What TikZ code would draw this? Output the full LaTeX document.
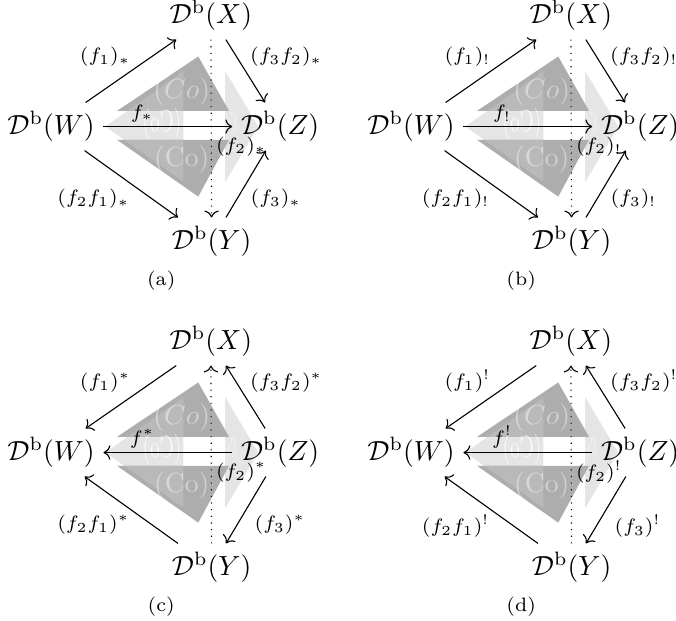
\documentclass[tikz,border=0pt]{standalone}
\usepackage{amsmath, amssymb}
\usepackage{tikz}
\usetikzlibrary{arrows.meta}
\definecolor{codark}{HTML}{ADADAD}
\definecolor{comid}{HTML}{B9B9B9}
\definecolor{colight}{HTML}{E5E5E5}
\tikzset{
    obj/.style={inner sep=3pt},
    lbl/.style={font=\scriptsize, inner sep=1.5pt},
    arr/.style={-{To}, thin},
    darr/.style={arr, dotted},
    subcap/.style={font=\scriptsize},
    cotxt/.style={text=white, text opacity=0.45, inner sep=0pt},
    cobg/.pic={
        \fill[colight] (0.69,0) -- (1.68,0.70) -- (1.68,-0.70) -- cycle;
        \fill[colight] (2.21,0.71) -- (2.63,0) -- (2.21,-0.71) -- cycle;
        \fill[codark] (0.84,0.2) -- (1.87,0.89) -- (2.26,0.2) -- cycle;
        \fill[codark] (0.84,-0.17) -- (1.87,-0.89) -- (2.26,-0.17) -- cycle;
        % where the left face lies over the dark faces
        \begin{scope}
            \clip (0.69,0) -- (1.68,0.70) -- (1.68,-0.70) -- cycle;
            \fill[comid] (0.84,0.2) -- (1.87,0.89) -- (2.26,0.2) -- cycle;
            \fill[comid] (0.84,-0.17) -- (1.87,-0.89) -- (2.26,-0.17) -- cycle;
        \end{scope}
        \node[cotxt] (-top) at (1.66,0.445) {$(Co)$};
        \node[cotxt] (-bot) at (1.66,-0.42) {(Co)};
        \node[cotxt, text opacity=0.8] (-left) at (1.41,0.03) {\scalebox{-0.7}[1.1]{(Co)}};
        \node[cotxt, text opacity=0.8] (-right) at (2.29,0.03) {\scalebox{-0.22}[1]{(Co)}};
    }
}

\begin{document}
\begin{tikzpicture}
    \useasboundingbox (-0.648,1.6075) rectangle (7.9375,-6.279);

    % (a) push-forward
    \begin{scope}[name prefix=a]
        \pic (bg) {cobg};
        \node[obj] (W) at (0,0) {$\mathcal{D}^{\mathrm{b}}(W)$};
        \node[obj] (X) at (2.03,1.41) {$\mathcal{D}^{\mathrm{b}}(X)$};
        \node[obj] (Z) at (2.91,0) {$\mathcal{D}^{\mathrm{b}}(Z)$};
        \node[obj] (Y) at (2.04,-1.46) {$\mathcal{D}^{\mathrm{b}}(Y)$};
        \draw[arr] (W) -- node[lbl, above left, xshift=1.5pt] (l1) {$(f_1)_*$} (X);
        \draw[arr] (X) -- node[lbl, above right] (l32) {$(f_3f_2)_*$} (Z);
        \draw[arr] (W) -- node[lbl, pos=0.3, above] (l0) {$f_*$} (Z);
        \draw[arr] (W) -- node[lbl, below left, xshift=1pt] (l21) {$(f_2f_1)_*$} (Y);
        \draw[arr] (Y) -- node[lbl, below right] (l3) {$(f_3)_*$} (Z);
        \draw[darr] (X) -- node[lbl, pos=0.6, right] (l2) {$(f_2)_*$} (Y);
        \node[subcap] (cap) at (1.40,-1.96) {(a)};
    \end{scope}

    % (b) push-forward with proper support
    \begin{scope}[shift={(4.572,0)}, name prefix=b]
        \pic (bg) {cobg};
        \node[obj] (W) at (0,0) {$\mathcal{D}^{\mathrm{b}}(W)$};
        \node[obj] (X) at (2.03,1.41) {$\mathcal{D}^{\mathrm{b}}(X)$};
        \node[obj] (Z) at (2.91,0) {$\mathcal{D}^{\mathrm{b}}(Z)$};
        \node[obj] (Y) at (2.04,-1.46) {$\mathcal{D}^{\mathrm{b}}(Y)$};
        \draw[arr] (W) -- node[lbl, above left, xshift=1.5pt] (l1) {$(f_1)_!$} (X);
        \draw[arr] (X) -- node[lbl, above right] (l32) {$(f_3f_2)_!$} (Z);
        \draw[arr] (W) -- node[lbl, pos=0.3, above] (l0) {$f_!$} (Z);
        \draw[arr] (W) -- node[lbl, below left, xshift=1pt] (l21) {$(f_2f_1)_!$} (Y);
        \draw[arr] (Y) -- node[lbl, below right] (l3) {$(f_3)_!$} (Z);
        \draw[darr] (X) -- node[lbl, pos=0.6, right] (l2) {$(f_2)_!$} (Y);
        \node[subcap] (cap) at (1.40,-1.96) {(b)};
    \end{scope}

    % (c) pull-back
    \begin{scope}[shift={(0,-4.14)}, name prefix=c]
        \pic (bg) {cobg};
        \node[obj] (W) at (0,0) {$\mathcal{D}^{\mathrm{b}}(W)$};
        \node[obj] (X) at (2.03,1.41) {$\mathcal{D}^{\mathrm{b}}(X)$};
        \node[obj] (Z) at (2.91,0) {$\mathcal{D}^{\mathrm{b}}(Z)$};
        \node[obj] (Y) at (2.04,-1.46) {$\mathcal{D}^{\mathrm{b}}(Y)$};
        \draw[arr] (X) -- node[lbl, above left, xshift=1.5pt] (l1) {$(f_1)^*$} (W);
        \draw[arr] (Z) -- node[lbl, above right] (l32) {$(f_3f_2)^*$} (X);
        \draw[arr] (Z) -- node[lbl, pos=0.7, above] (l0) {$f^*$} (W);
        \draw[arr] (Y) -- node[lbl, below left, xshift=1pt] (l21) {$(f_2f_1)^*$} (W);
        \draw[arr] (Z) -- node[lbl, below right, xshift=1.5pt] (l3) {$(f_3)^*$} (Y);
        \draw[darr] (Y) -- node[lbl, pos=0.4, right] (l2) {$(f_2)^*$} (X);
        \node[subcap] (cap) at (1.40,-1.96) {(c)};
    \end{scope}

    % (d) exceptional pull-back
    \begin{scope}[shift={(4.572,-4.14)}, name prefix=d]
        \pic (bg) {cobg};
        \node[obj] (W) at (0,0) {$\mathcal{D}^{\mathrm{b}}(W)$};
        \node[obj] (X) at (2.03,1.41) {$\mathcal{D}^{\mathrm{b}}(X)$};
        \node[obj] (Z) at (2.91,0) {$\mathcal{D}^{\mathrm{b}}(Z)$};
        \node[obj] (Y) at (2.04,-1.46) {$\mathcal{D}^{\mathrm{b}}(Y)$};
        \draw[arr] (X) -- node[lbl, above left, xshift=1.5pt] (l1) {$(f_1)^!$} (W);
        \draw[arr] (Z) -- node[lbl, above right] (l32) {$(f_3f_2)^!$} (X);
        \draw[arr] (Z) -- node[lbl, pos=0.7, above] (l0) {$f^!$} (W);
        \draw[arr] (Y) -- node[lbl, below left, xshift=1pt] (l21) {$(f_2f_1)^!$} (W);
        \draw[arr] (Z) -- node[lbl, below right, xshift=1.5pt] (l3) {$(f_3)^!$} (Y);
        \draw[darr] (Y) -- node[lbl, pos=0.4, right] (l2) {$(f_2)^!$} (X);
        \node[subcap] (cap) at (1.40,-1.96) {(d)};
    \end{scope}
\end{tikzpicture}
\end{document}
